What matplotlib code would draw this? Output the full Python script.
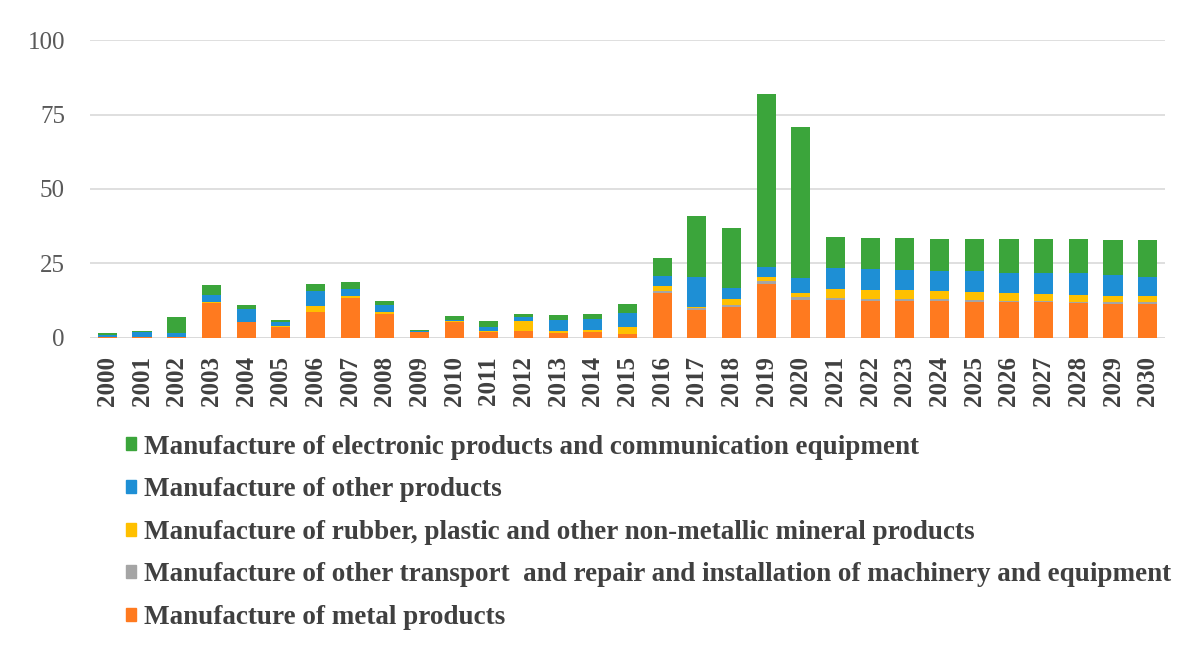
import numpy as np
import matplotlib
matplotlib.use("Agg")
import matplotlib.pyplot as plt
from matplotlib.patches import Patch

plt.rcParams['font.family'] = ['Liberation Serif', 'DejaVu Serif']

years = [str(y) for y in range(2000, 2031)]

metal = [0.2, 0.2, 0.2, 11.6, 5.2, 3.6, 8.8, 13.3, 7.9, 1.8,
         5.2, 1.8, 2.4, 1.6, 1.8, 1.2, 15.2, 9.4, 10.5, 18.1,
         12.8, 12.8, 12.5, 12.5, 12.4, 12.2, 12.0, 11.9, 11.7, 11.5, 11.5]
transport = [0, 0, 0, 0, 0, 0, 0, 0, 0, 0,
             0, 0, 0, 0, 0, 0, 0.6, 0.5, 0.4, 1.0,
             0.9, 0.5, 0.5, 0.5, 0.5, 0.5, 0.5, 0.5, 0.5, 0.5, 0.5]
rubber = [0, 0, 0, 0.3, 0, 0.4, 1.9, 0.8, 0.9, 0,
          0.3, 0.6, 3.1, 0.8, 0.9, 2.6, 1.6, 0.4, 2.2, 1.4,
          1.3, 3.0, 3.1, 3.0, 2.9, 2.8, 2.5, 2.4, 2.3, 2.2, 2.2]
other = [0.8, 1.8, 1.3, 2.6, 4.4, 1.3, 5.1, 2.2, 2.3, 0.4,
         0.4, 1.4, 1.4, 3.6, 3.6, 4.5, 3.4, 10.3, 3.6, 3.3,
         5.0, 7.1, 7.0, 6.8, 6.7, 6.8, 6.9, 6.9, 7.2, 6.8, 6.4]
electronic = [0.5, 0.4, 5.4, 3.3, 1.5, 0.7, 2.3, 2.6, 1.4, 0.5,
              1.3, 1.9, 1.1, 1.6, 1.6, 3.1, 6.1, 20.3, 20.3, 58.0,
              50.9, 10.3, 10.5, 10.8, 10.7, 10.9, 11.2, 11.4, 11.4, 11.7, 12.1]

series = [
    ("Manufacture of metal products", metal, "#FF7A1F"),
    ("Manufacture of other transport  and repair and installation of machinery and equipment", transport, "#A5A5A5"),
    ("Manufacture of rubber, plastic and other non-metallic mineral products", rubber, "#FFC000"),
    ("Manufacture of other products", other, "#1E8FD5"),
    ("Manufacture of electronic products and communication equipment", electronic, "#3BA53B"),
]

fig = plt.figure(figsize=(11.84, 6.46), dpi=100)
ax = fig.add_axes([0.076, 0.477, 0.908, 0.461])

x = np.arange(len(years))
bottom = np.zeros(len(years))
for name, vals, col in series:
    ax.bar(x, vals, 0.55, bottom=bottom, color=col, zorder=3)
    bottom += np.array(vals)

ax.set_xlim(-0.5, len(years) - 0.5)
ax.set_ylim(0, 100)
ax.set_yticks([0, 25, 50, 75, 100])
ax.grid(axis='y', color='#D9D9D9', linewidth=1.2, zorder=0)
for s in ax.spines.values():
    s.set_visible(False)
ax.axhline(0, color='#D9D9D9', linewidth=1.2, zorder=1)
ax.tick_params(length=0)
ax.tick_params(axis='y', labelsize=18, labelcolor='#595959', pad=18)
ax.set_xticks(x)
ax.set_xticklabels(years, rotation=90, fontsize=18, fontweight='bold',
                   color='#404040')
ax.tick_params(axis='x', pad=13)

# legend stacked below the plot, topmost series first
handles = [Patch(color=col, label=name) for name, _, col in series[::-1]]
fig.legend(handles=handles, loc='upper left', bbox_to_anchor=(0.086, 0.365),
           frameon=False, handlelength=0.37, handleheight=0.37,
           handletextpad=0.3, labelspacing=0.65,
           prop={'size': 19.5, 'weight': 'bold'}, labelcolor='#404040')

fig.savefig("out.png", dpi=100)
